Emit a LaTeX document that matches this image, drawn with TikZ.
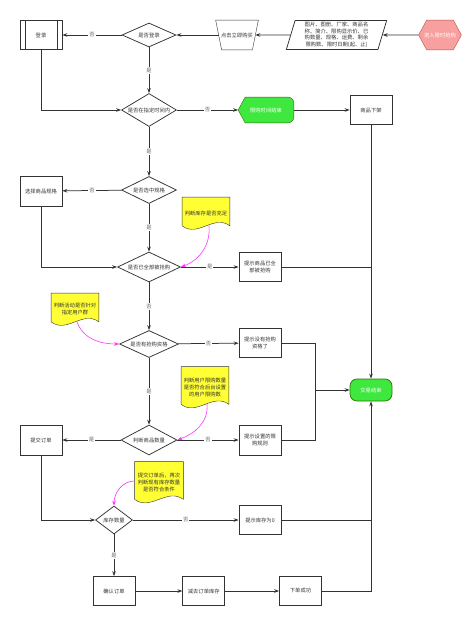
\documentclass[tikz,border=0pt]{standalone}
\usepackage{fontspec}
\setmainfont{Noto Sans CJK SC}
\usetikzlibrary{positioning, shapes.geometric, backgrounds, calc, arrows.meta}

\definecolor{flowline}{HTML}{333333}
\definecolor{hexred}{HTML}{F8A0A0}
\definecolor{hexline}{HTML}{B85450}
\definecolor{okgreen}{HTML}{3FE83F}
\definecolor{okline}{HTML}{2D7600}
\definecolor{noteyel}{HTML}{FFFF33}
\definecolor{hintpink}{HTML}{FF33FF}

% yellow sticky note behind a node
\newcommand\notepaper[1]{%
  \begin{scope}[on background layer]
    \draw[flowline, fill=noteyel] (#1.north west) -- (#1.north east) -- ([yshift=3pt]#1.south east)
      .. controls ($(#1.south east)!0.33!(#1.south west)+(0,15pt)$) and ($(#1.south east)!0.67!(#1.south west)+(0,-9pt)$) .. ([yshift=3pt]#1.south west) -- cycle;
  \end{scope}}

\begin{document}
\begin{tikzpicture}[>={Stealth[length=5pt, width=3.6pt]}, x=1pt, y=1pt, line width=0.75pt,
    every node/.style={align=center, font=\fontsize{5.3}{7}\selectfont, inner sep=0pt, text=black!80},
    box/.style={draw=flowline, fill=white, minimum width=42pt, minimum height=29pt},
    decide/.style={draw=flowline, fill=white, diamond, aspect=2},
    note/.style={minimum width=47pt},
    link/.style={->, flowline},
    lbl/.style={fill=white, inner sep=1pt, text=black!60},
    hint/.style={->, hintpink, line width=0.6pt}]

    \useasboundingbox (0,0) rectangle (474,-620);

    % entry row
    \node (start) [minimum width=42pt, minimum height=29pt, text=white] at (440,-35) {进入限时抢购};
    \node (info) [trapezium, trapezium left angle=75, trapezium right angle=105, trapezium stretches=true, draw=flowline, fill=white, minimum width=101pt, minimum height=29pt, font=\fontsize{5.3}{6.5}\selectfont] at (336.5,-35) {图片、图册、厂家、商品名\\称、简介、限购显示价、已\\购数量、规格、运费、剩余\\限购数、限时日期(起、止)};
    \node (buy) [minimum width=42pt, minimum height=29pt] at (237,-35) {点击立即购买};
    \node (islogin) [decide, minimum width=54pt, minimum height=24pt] at (149,-35) {是否登录};
    \node (login) [box] at (41,-35) {登录};

    % time check
    \node (intime) [decide, minimum width=55pt, minimum height=33pt] at (149,-110) {是否在指定时间内};
    \node (timeover) [minimum width=55pt, minimum height=25pt, text=white] at (266,-110) {限购时间结束};
    \node (offshelf) [box] at (371,-110) {商品下架};

    % spec and stock
    \node (selspec) [decide, minimum width=55pt, minimum height=27pt] at (149,-190) {是否选中规格};
    \node (choose) [box, minimum height=30pt] at (41,-191) {选择商品规格};
    \node (note1) [note, minimum height=31pt] at (206,-213) {判断库存是否充足};
    \node (sold) [decide, minimum width=63pt, minimum height=30pt] at (149,-267) {是否已全部被抢购};
    \node (soldtip) [box] at (260,-267) {提示商品已全\\部被抢购};

    % user checks
    \node (note2) [note, minimum height=31pt] at (75,-309) {判断活动是否针对\\指定用户群};
    \node (qualify) [decide, minimum width=59pt, minimum height=27pt] at (149,-344) {是否有抢购资格};
    \node (notip) [box] at (260,-343) {提示没有抢购\\资格了};
    \node (finish) [draw=okline, fill=okgreen, rounded corners=7pt, minimum width=42pt, minimum height=22pt, text=white] at (371,-390) {交易结束};
    \node (note3) [note, minimum height=40pt] at (205,-387) {判断用户限购数量\\是否符合后台设置\\的用户限购数};
    \node (count) [decide, minimum width=56pt, minimum height=30pt] at (149,-440) {判断商品数量};
    \node (ruletip) [box, minimum height=30pt] at (260,-440) {提示设置的限\\购规则};
    \node (submit) [box, minimum height=30pt] at (41,-440) {提交订单};

    % order
    \node (note4) [note, minimum width=48pt, minimum height=40pt] at (159,-482) {提交订单后，再次\\判断现有库存数量\\是否符合条件};
    \node (stock) [decide, minimum width=37pt, minimum height=28pt] at (114,-520) {库存数量};
    \node (zerotip) [box] at (260,-520) {提示库存为0};
    \node (confirm) [box] at (114,-591) {确认订单};
    \node (deduct) [box, right=47pt of confirm] {减去订单库存};
    \node (success) [box, right=54pt of deduct] {下单成功};
    \coordinate (merge) at (315,-390);

    % shapes behind text
    \begin{scope}[on background layer]
        \draw[hexline, fill=hexred] (start.west) -- ([xshift=8pt]start.north west) -- ([xshift=-8pt]start.north east) -- (start.east) -- ([xshift=-8pt]start.south east) -- ([xshift=8pt]start.south west) -- cycle;
        \draw[okline, fill=okgreen] (timeover.west) -- ([xshift=7pt]timeover.north west) [rounded corners=6pt] -- (timeover.north east) -- (timeover.south east) [sharp corners] -- ([xshift=7pt]timeover.south west) -- cycle;
        \draw[flowline, fill=white] (buy.north west) -- (buy.north east) -- ([xshift=-6pt]buy.south east) -- ([xshift=6pt]buy.south west) -- cycle;
    \end{scope}
    \notepaper{note1}
    \notepaper{note2}
    \notepaper{note3}
    \notepaper{note4}
    \draw[flowline] ([xshift=5.5pt]login.north west) -- ([xshift=5.5pt]login.south west)
        ([xshift=-5.5pt]login.north east) -- ([xshift=-5.5pt]login.south east);

    % flow
    \draw[link] (start) -- (info);
    \draw[link] (info) -- ([xshift=-3pt]buy.east);
    \draw[link] ([xshift=3pt]buy.west) -- (islogin);
    \draw[link] (islogin) -- node[lbl] {否} (login);
    \draw[link] (islogin) -- node[lbl] {是} (intime);
    \draw[link] (login) |- (intime);
    \draw[link] (intime) -- node[lbl] {否} (timeover);
    \draw[link] (timeover) -- (offshelf);
    \draw[link] (offshelf) -- (finish);
    \draw[link] (intime) -- node[lbl] {是} (selspec);
    \draw[link] (selspec) -- node[lbl] {否} (choose);
    \draw[link] (choose) |- (sold);
    \draw[link] (selspec) -- node[lbl] {是} (sold);
    \draw[link] (sold) -- node[lbl] {是} (soldtip);
    \draw[flowline] (soldtip) -- (soldtip -| offshelf);
    \draw[link] (sold) -- node[lbl] {否} (qualify);
    \draw[link] (qualify) -- node[lbl] {否} (notip);
    \draw[link] (notip) -| (merge) -- (finish);
    \draw[flowline] (ruletip) -| (merge);
    \draw[link] (qualify) -- node[lbl] {是} (count);
    \draw[link] (count) -- node[lbl] {否} (ruletip);
    \draw[link] (count) -- node[lbl] {是} (submit);
    \draw[link] (submit) |- (stock);
    \draw[link] (stock) -- node[lbl] {否} (zerotip);
    \draw[flowline] (zerotip) -- (zerotip -| offshelf);
    \draw[link] (stock) -- node[lbl] {是} (confirm);
    \draw[link] (confirm) -- (deduct);
    \draw[link] (deduct) -- (success);
    \draw[link] (success) -| (finish);

    % hints
    \draw[hint] ([xshift=3pt,yshift=3pt]note1.south) to[out=-85, in=20] (sold.east);
    \draw[hint] ([xshift=2pt,yshift=3pt]note2.south) to[out=-70, in=180] (qualify.west);
    \draw[hint] ([xshift=2pt,yshift=3pt]note3.south) to[out=-85, in=20] (count.east);
    \draw[hint] ([yshift=1pt]note4.west) to[out=180, in=90] (stock.north);
\end{tikzpicture}
\end{document}
